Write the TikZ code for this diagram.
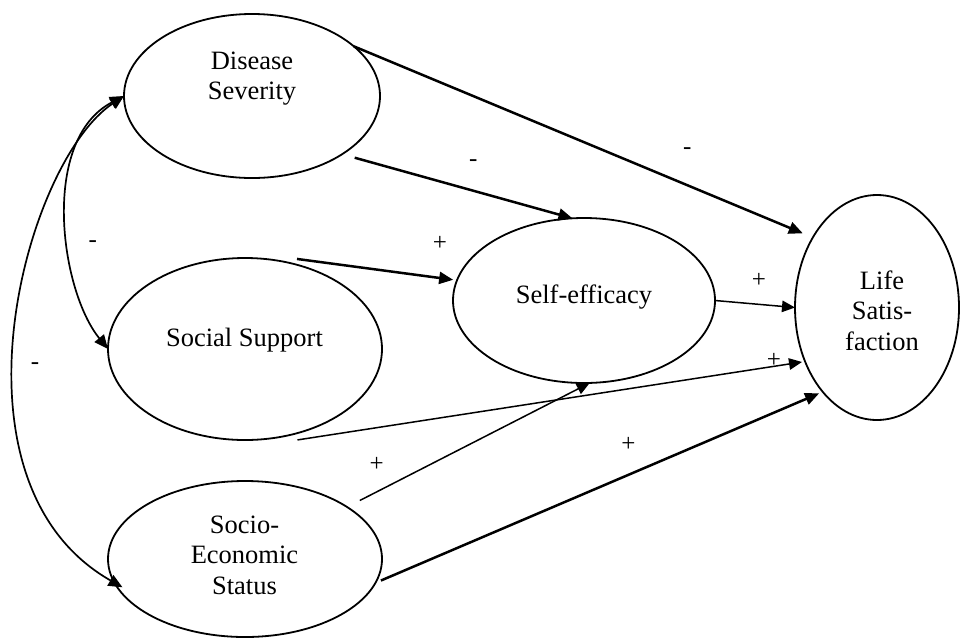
\documentclass[tikz,border=0pt]{standalone}
\usepackage{fontspec}
\setmainfont{Liberation Serif}
\usetikzlibrary{arrows.meta,shapes.geometric,calc}
\newcommand{\mylines}[1]{\begin{tabular}[t]{@{}c@{}}#1\end{tabular}}
\begin{document}
\begin{tikzpicture}[x=1pt,y=-1pt,
  ell/.style={ellipse,draw,line width=1.8pt,inner sep=0pt,outer sep=0pt},
  lbl/.style={font=\fontsize{26.5}{30.5}\selectfont,anchor=base,inner sep=0pt},
  sgn/.style={font=\fontsize{25}{25}\selectfont,inner sep=0pt},
  thkarr/.style={line width=2.5pt,-{Triangle[length=14pt,width=12pt]}},
  thnarr/.style={line width=1.5pt,-{Triangle[length=13pt,width=11.5pt]}},
  dblarr/.style={line width=1.7pt,{Triangle[length=14pt,width=12pt]}-{Triangle[length=14pt,width=12pt]}}
]
\useasboundingbox (0,0) rectangle (960,638);

% ellipses
\node[ell,minimum width=256pt,minimum height=164pt] (ds) at (252,96) {};
\node[ell,minimum width=274pt,minimum height=182pt] (ss) at (245,349) {};
\node[ell,minimum width=274pt,minimum height=156pt] (ses) at (245,559) {};
\node[ell,minimum width=262pt,minimum height=165pt] (se) at (584,300.5) {};
\node[ell,minimum width=164pt,minimum height=225pt] (ls) at (877,307.5) {};

% texts
\node[lbl] (dsT) at (252,69.3) {\mylines{Disease\\Severity}};
\node[lbl] (ssT) at (244.5,346) {Social Support};
\node[lbl] (sesT) at (244.5,533.3) {\mylines{Socio-\\Economic\\Status}};
\node[lbl] (seT) at (584,303.3) {Self-efficacy};
\node[lbl] (lsT) at (882,289.3) {\mylines{Life\\Satis-\\faction}};

% straight paths
\draw[thkarr] (ds.26) -- ($(ls.center)!1.12!(ls.135)$);
\draw[thkarr] ($(ds.center)!1.1!(ds.-31)$) -- (se.98);
\draw[thkarr] ($(ss.center)!1.06!(ss.60)$) -- ($(se.center)!1.03!(se.171)$);
\draw[thnarr] (se.0) -- (ls.180);
\draw[thnarr] ($(ss.center)!1.07!(ss.-60)$) -- ($(ls.center)!1.035!(ls.216)$);
\draw[thnarr] ($(ses.center)!1.125!(ses.27.4)$) -- (se.-86);
\draw[thkarr] ($(ses.center)!1.03!(ses.-9)$) -- ($(ls.center)!1.04!(ls.236)$);

% correlations
\draw[dblarr] (ds.180) .. controls (40,140) and (60,290) .. (ss.180);
\draw[dblarr] (ds.180) .. controls (25,162) and (-62,482) .. ($(ses.center)!0.965!(ses.193)$);

% signs
\node[sgn] (c1) at (92.7,244) {-};
\node[sgn] (c2) at (35,366) {-};
\node[sgn] (c3) at (473.3,163.3) {-};
\node[sgn] (c4) at (687.3,150.7) {-};
\node[sgn] (c5) at (440,243) {+};
\node[sgn] (c6) at (759,280) {+};
\node[sgn] (c7) at (774,360) {+};
\node[sgn] (c8) at (376.7,464) {+};
\node[sgn] (c9) at (628.3,444.3) {+};
\end{tikzpicture}
\end{document}
